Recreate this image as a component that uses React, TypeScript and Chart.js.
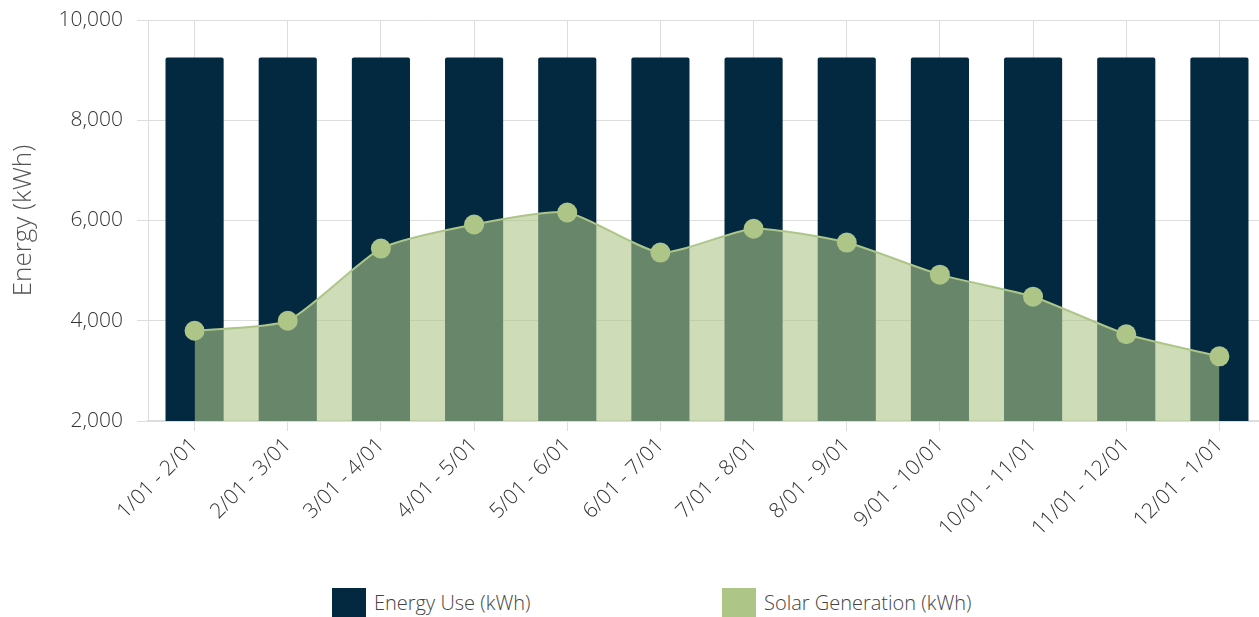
import React, { useEffect, useRef } from "react";
import { Chart, registerables } from "chart.js";

Chart.register(...registerables);

const categories = [
  "1/01 - 2/01", "2/01 - 3/01", "3/01 - 4/01", "4/01 - 5/01", "5/01 - 6/01", "6/01 - 7/01",
  "7/01 - 8/01", "8/01 - 9/01", "9/01 - 10/01", "10/01 - 11/01", "11/01 - 12/01", "12/01 - 1/01",
];
const energyUse = [9250, 9250, 9250, 9250, 9250, 9250, 9250, 9250, 9250, 9250, 9250, 9250];
const solarGeneration = [3800, 4000, 5440, 5920, 6160, 5360, 5835, 5560, 4920, 4480, 3730, 3290];
const yTicks = [2000, 4000, 6000, 8000, 10000];

const NAVY = "#02293f";
const GREEN = "#adc688";
const FONT = "'Open Sans', 'DejaVu Sans', sans-serif";

function zeroPad(s: any) {
  s.paddingTop = 0;
  s.paddingBottom = 0;
  s.paddingLeft = 0;
  s.paddingRight = 0;
}

export default function App() {
  const ref = useRef<HTMLCanvasElement | null>(null);

  useEffect(() => {
    document.body.style.margin = "0";
    document.body.style.overflow = "hidden";
    const canvas = ref.current!;
    const chart = new Chart(canvas, {
      type: "bar",
      data: {
        labels: categories,
        datasets: [
          {
            type: "line",
            label: "Solar Generation (kWh)",
            data: solarGeneration,
            borderColor: GREEN,
            backgroundColor: "rgba(174,196,135,0.6)",
            pointBackgroundColor: GREEN,
            pointBorderColor: GREEN,
            pointBorderWidth: 0,
            pointRadius: 10,
            borderWidth: 2,
            tension: 0.2,
            fill: "start",
            order: 0,
          } as any,
          {
            type: "bar",
            label: "Energy Use (kWh)",
            data: energyUse,
            backgroundColor: NAVY,
            borderRadius: 2,
            borderSkipped: "bottom",
            categoryPercentage: 0.8,
            barPercentage: 0.78,
            order: 1,
          },
        ],
      },
      options: {
        responsive: false,
        animation: false,
        devicePixelRatio: 1,
        layout: { padding: { top: 20, right: 5, left: 0, bottom: 0 } },
        plugins: { legend: { display: false }, tooltip: { enabled: false } },
        scales: {
          x: {
            afterFit: (s: any) => { s.height = 159; zeroPad(s); },
            grid: { offset: false, color: "#dddddd", lineWidth: 1, tickLength: 10, drawOnChartArea: true },
            border: { color: "#dddddd", width: 2 },
            ticks: {
              autoSkip: false,
              maxRotation: 45,
              minRotation: 45,
              padding: 2,
              color: "#333333",
              font: { family: FONT, size: 21, weight: "300" as any },
            },
          },
          y: {
            min: 2000,
            max: 10000,
            afterFit: (s: any) => { s.width = 148; zeroPad(s); },
            afterBuildTicks: (s: any) => { s.ticks = yTicks.map((v) => ({ value: v })); },
            grid: { color: "#dddddd", lineWidth: 1, tickLength: 11 },
            border: { color: "#dddddd", width: 1 },
            ticks: {
              padding: 14,
              color: "#333333",
              font: { family: FONT, size: 21, weight: "300" as any },
              callback: (v: any) => Number(v).toLocaleString("en-US"),
            },
            title: {
              display: true,
              text: "Energy (kWh)",
              color: "#555555",
              padding: { top: 8, bottom: 0 },
              font: { family: FONT, size: 26, weight: "300" as any },
            },
          },
        },
      },
    });
    return () => chart.destroy();
  }, []);

  const legendText: React.CSSProperties = {
    position: "absolute",
    fontFamily: FONT,
    fontWeight: 300,
    fontSize: 20,
    color: "#444444",
    top: 590,
    lineHeight: "26px",
    whiteSpace: "nowrap",
  };

  return (
    <div style={{ position: "relative", width: 1259, height: 617, overflow: "hidden", background: "#fff" }}>
      <canvas ref={ref} width={1276} height={580} style={{ position: "absolute", left: 0, top: 0 }} />
      <div style={{ position: "absolute", left: 332, top: 588, width: 34, height: 30, background: NAVY }} />
      <span style={{ ...legendText, left: 374 }}>Energy Use (kWh)</span>
      <div style={{ position: "absolute", left: 722, top: 588, width: 34, height: 30, background: GREEN }} />
      <span style={{ ...legendText, left: 764 }}>Solar Generation (kWh)</span>
    </div>
  );
}
